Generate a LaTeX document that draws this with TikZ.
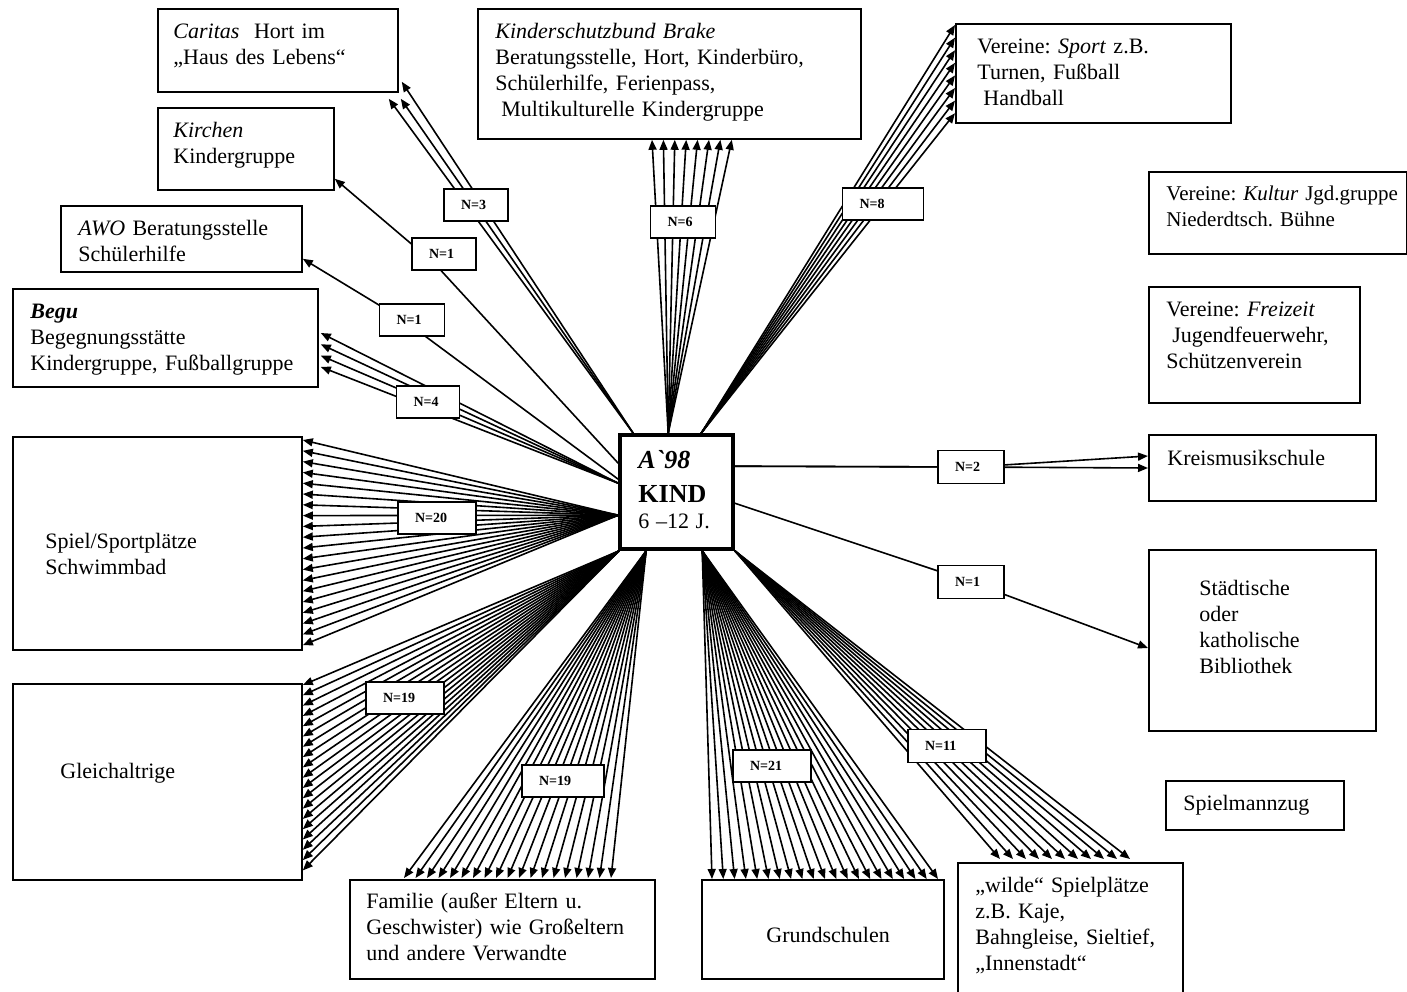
\documentclass[tikz,border=0pt]{standalone}
\usepackage{fontspec}
\setmainfont{Liberation Serif}
\usetikzlibrary{arrows.meta,calc}
\begin{document}
\frenchspacing
\begin{tikzpicture}[x=0.5pt,y=-0.5pt,
  box/.style={draw,line width=0.9pt,rectangle,inner sep=0pt,anchor=north west},
  txt/.style={anchor=base west,inner sep=0pt,text width=220pt,align=left,font=\fontsize{11}{13}\selectfont\frenchspacing},
  lbl/.style={draw,fill=white,line width=0.7pt,inner xsep=8.5pt,inner ysep=0pt,minimum height=16pt,text width=#1,align=left,font=\fontsize{7}{8}\selectfont\bfseries},
  ln/.style={line width=0.8pt,-{Triangle[length=5pt,width=4pt]}}]
\useasboundingbox (0,0) rectangle (1407,991);
\clip (0,0) rectangle (1407,991);

% ---- boxes ----
\node[box,minimum width=120pt,minimum height=41.5pt] (caritas) at (157,8) {};
\node[box,minimum width=191.5pt,minimum height=65pt] (ksb) at (477,8) {};
\node[box,minimum width=137.5pt,minimum height=49.5pt] (sport) at (955,23) {};
\node[box,minimum width=88pt,minimum height=41pt] (kirchen) at (157,107) {};
\node[box,minimum width=120.5pt,minimum height=33pt] (awo) at (60,205) {};
\node[box,minimum width=152.5pt,minimum height=49pt] (begu) at (12,288) {};
\node[box,minimum width=129pt,minimum height=41pt] (kultur) at (1148,171) {};
\node[box,minimum width=105.5pt,minimum height=58pt] (freizeit) at (1148,286) {};
\node[box,minimum width=113.5pt,minimum height=33pt] (kreis) at (1148,434) {};
\node[box,minimum width=113.5pt,minimum height=90.5pt] (bib) at (1148,549) {};
\node[box,minimum width=89pt,minimum height=24.5pt] (spm) at (1165,780) {};
\node[box,minimum width=112.5pt,minimum height=70pt] (wilde) at (957,862) {};
\node[box,minimum width=121pt,minimum height=49.5pt] (grund) at (701,879) {};
\node[box,minimum width=152.5pt,minimum height=49.5pt] (fam) at (349,879) {};
\node[box,minimum width=144.5pt,minimum height=98pt] (gleich) at (12,683) {};
\node[box,minimum width=144.5pt,minimum height=106.5pt] (spiel) at (12,436) {};

% ---- centre ----
\node[draw,line width=1.8pt,fill=white,minimum width=56.5pt,minimum height=57pt,inner sep=0pt] (kind) at (676.5,492) {};

% ---- texts ----
\node[txt] (caritas-t) at (173,38) {\textit{Caritas}\ \ Hort im\\„Haus des Lebens“};
\node[txt] (ksb-t) at (495,38) {\textit{Kinderschutzbund Brake}\\Beratungsstelle, Hort, Kinderbüro,\\Schülerhilfe, Ferienpass,\\\hspace*{3pt}Multikulturelle Kindergruppe};
\node[txt] (sport-t) at (977,53) {Vereine: \textit{Sport} z.B.\\Turnen, Fußball\\\hspace*{3pt}Handball};
\node[txt] (kirchen-t) at (173,137) {\textit{Kirchen}\\Kindergruppe};
\node[txt] (awo-t) at (78,235) {\textit{AWO} Beratungsstelle\\Schülerhilfe};
\node[txt] (begu-t) at (30,318) {\textbf{\textit{Begu}}\\Begegnungsstätte\\Kindergruppe, Fußballgruppe};
\node[txt,font=\fontsize{10.5}{13}\selectfont\frenchspacing] (kultur-t) at (1166,200) {Vereine: \textit{Kultur} Jgd.gruppe\\Niederdtsch. Bühne};
\node[txt] (freizeit-t) at (1166,316) {Vereine: \textit{Freizeit}\\\hspace*{3pt}Jugendfeuerwehr,\\Schützenverein};
\node[txt] (kreis-t) at (1167,465) {Kreismusikschule};
\node[txt] (bib-t) at (1199,595) {Städtische\\oder\\katholische\\Bibliothek};
\node[txt] (spm-t) at (1183,810) {Spielmannzug};
\node[txt] (wilde-t) at (975,892) {„wilde“ Spielplätze\\z.B. Kaje,\\Bahngleise, Sieltief,\\„Innenstadt“};
\node[txt] (grund-t) at (766,942) {Grundschulen};
\node[txt] (fam-t) at (366,908) {Familie (außer Eltern u.\\Geschwister) wie Großeltern\\und andere Verwandte};
\node[txt] (gleich-t) at (60,778) {Gleichaltrige};
\node[txt] (spiel-t) at (45,548) {Spiel/Sportplätze\\Schwimmbad};
\node[anchor=base west,inner sep=0pt,text width=50pt,align=left] (kind-t) at (638,468)
  {\fontsize{13}{17}\selectfont\bfseries\itshape A\textasciigrave 98\par\upshape KIND\par\fontsize{11}{13}\selectfont\mdseries 6 –12 J.\par};

% ---- label positions ----
\coordinate (lCar) at (476,205);
\coordinate (lKir) at (444,254);
\coordinate (lAwo) at (412,320);
\coordinate (lBeg) at (428,402);
\coordinate (lSpi) at (437,518);
\coordinate (lKsb) at (683,222);
\coordinate (lSpo) at (883,204);
\coordinate (lKre) at (971,467);
\coordinate (lBib) at (971,582);
\coordinate (lGle) at (405,698);
\coordinate (lFam) at (563,781);
\coordinate (lGru) at (772,766);
\coordinate (lWil) at (947,746);

% ---- connectors ----
% Caritas N=3
\draw[ln] ($(kind.north west)+(15,0)$) -- ($(caritas.south east)+(3,-11)$);
\draw[ln] ($(kind.north west)+(15,0)$) -- ($(caritas.south east)+(-10,6)$);
\draw[ln] ($(kind.north west)+(15,0)$) -- ($(caritas.south east)+(2,6)$);
% Kinderschutzbund
\foreach \i in {0,...,7}
  \draw[ln] ($(kind.north west)+(50,0)$) -- ($(ksb.south west)+(175+11.4*\i,0)$);
% Sport
\foreach \i in {0,...,7}
  \draw[ln] ($(kind.north west)+(83,0)$) -- ($(sport.north west)+(0,2+12.6*\i)$);
% Kirchen N=1
\draw[ln] ($(kind.north west)+(0,30)$) -- ($(lKir)+(-9,10)$) -- ($(kirchen.south east)+(0,-12)$);
% AWO N=1
\draw[ln] ($(kind.north west)+(0,46)$) -- ($(lAwo)+(-10,-1)$) -- ($(awo.south east)+(0,-14)$);
% Begu N=4
\foreach \i in {0,...,3}
  \draw[ln] ($(kind.north west)+(0,50)$) -- ($(begu.north east)+(2,45+11.3*\i)$);
% Spiel/Sport N=20
\foreach \i in {0,...,19}
  \draw[ln] ($(kind.north west)+(0,82)$) -- ($(spiel.north east)+(0,4+10.8*\i)$);
% Gleichaltrige N=19
\foreach \i in {0,...,18}
  \draw[ln] ($(kind.south west)+(1,0)$) -- ($(gleich.north east)+(0,2+10.3*\i)$);
% Familie N=19
\foreach \i in {0,...,18}
  \draw[ln] ($(kind.south west)+(28,0)$) -- ($(fam.north west)+(55+11.5*\i,-1)$);
% Grundschulen N=21
\foreach \i in {0,...,20}
  \draw[ln] ($(kind.south west)+(84,0)$) -- ($(grund.north west)+(11+11.3*\i,0)$);
% wilde Spielplaetze N=11
\foreach \i in {0,...,10}
  \draw[ln] (kind.south east) -- ($(wilde.north west)+(43+13*\i,-3)$);
% Kreismusikschule N=2
\draw[ln] ($(kind.north east)+(0,33)$) -- (lKre) -- ($(kreis.north west)+(0,22)$);
\draw[ln] ($(kind.north east)+(0,33)$) -- (lKre) -- ($(kreis.north west)+(0,34)$);
% Bibliothek N=1
\draw[ln] ($(kind.north east)+(0,70)$) -- (lBib) -- ($(bib.north west)+(0,99)$);

% ---- labels ----
\node[lbl=15pt,minimum width=32pt] (nCar) at (lCar) {N=3};
\node[lbl=15pt] (nKir) at (lKir) {N=1};
\node[lbl=15.5pt] (nAwo) at (lAwo) {N=1};
\node[lbl=14.5pt] (nBeg) at (lBeg) {N=4};
\node[lbl=22pt] (nSpi) at (lSpi) {N=20};
\node[lbl=15.5pt] (nKsb) at (lKsb) {N=6};
\node[lbl=23.5pt] (nSpo) at (lSpo) {N=8};
\node[lbl=16pt,minimum height=16.5pt] (nKre) at (lKre) {N=2};
\node[lbl=16pt,minimum height=16.5pt] (nBib) at (lBib) {N=1};
\node[lbl=22pt] (nGle) at (lGle) {N=19};
\node[lbl=24pt] (nFam) at (lFam) {N=19};
\node[lbl=22pt] (nGru) at (lGru) {N=21};
\node[lbl=22pt,minimum height=16.5pt] (nWil) at (lWil) {N=11};
\end{tikzpicture}
\end{document}
